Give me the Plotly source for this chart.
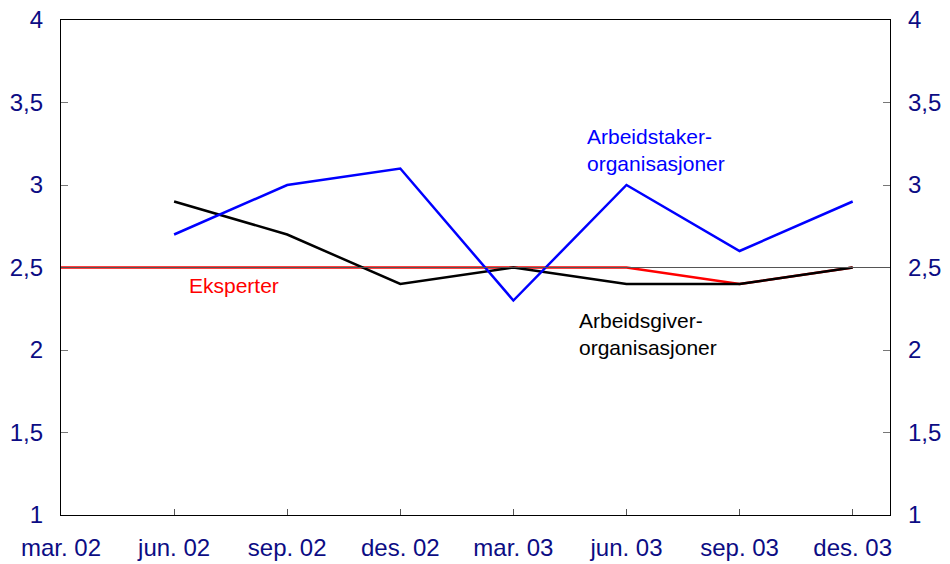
import plotly.graph_objects as go

categories = ["mar. 02", "jun. 02", "sep. 02", "des. 02", "mar. 03", "jun. 03", "sep. 03", "des. 03"]
arbeidstaker = [None, 2.7, 3.0, 3.1, 2.3, 3.0, 2.6, 2.9]
arbeidsgiver = [None, 2.9, 2.7, 2.4, 2.5, 2.4, 2.4, 2.5]
eksperter = [2.5, 2.5, 2.5, 2.5, 2.5, 2.5, 2.4, 2.5]
y_ticks = [1, 1.5, 2, 2.5, 3, 3.5, 4]
ref_level = 2.5

xs = list(range(len(categories)))
navy = "#0c0c84"
font = "Liberation Sans, Arial, sans-serif"
tick_size = 24
ann_size = 21

fig = go.Figure()
fig.add_trace(go.Scatter(x=xs, y=eksperter, mode="lines", line=dict(color="#ff0000", width=2.5), showlegend=False))
fig.add_trace(go.Scatter(x=xs, y=arbeidsgiver, mode="lines", line=dict(color="#000000", width=2.5), showlegend=False))
fig.add_trace(go.Scatter(x=xs, y=arbeidstaker, mode="lines", line=dict(color="#0000ff", width=2.5), showlegend=False))
fig.add_trace(go.Scatter(x=xs, y=arbeidstaker, mode="lines", line=dict(width=0), yaxis="y2", showlegend=False, hoverinfo="skip"))
fig.add_hline(y=ref_level, line=dict(color="#555555", width=1), layer="above")

fig.update_layout(
    width=950, height=564,
    margin=dict(l=61, r=60, t=20, b=49, autoexpand=False),
    paper_bgcolor="white", plot_bgcolor="white",
    separators=", ",
    font=dict(family=font, size=tick_size, color=navy),
    xaxis=dict(
        range=[0, 7.33], tickvals=xs, ticktext=categories, automargin=False,
        ticks="inside", ticklen=6, tickcolor="#555555", tickwidth=1,
        showgrid=False, zeroline=False, showline=True, linecolor="black", linewidth=1.2,
        mirror=True, ticklabelstandoff=11, ticklabeloverflow="allow",
        tickfont=dict(size=tick_size, color=navy, family=font),
    ),
    yaxis=dict(
        range=[1, 4], tickvals=y_ticks, ticks="inside", ticklen=7, tickcolor="#777777",
        showgrid=False, zeroline=False, showline=True, linecolor="black", linewidth=1.2,
        ticklabelstandoff=12, automargin=False, ticklabeloverflow="allow",
        tickfont=dict(size=tick_size, color=navy, family=font),
    ),
    yaxis2=dict(
        range=[1, 4], tickvals=y_ticks, ticks="inside", ticklen=7, tickcolor="#777777",
        overlaying="y", side="right", showgrid=False, zeroline=False, automargin=False,
        showline=True, linecolor="black", linewidth=1.2, ticklabelstandoff=12,
        ticklabeloverflow="allow",
        tickfont=dict(size=tick_size, color=navy, family=font),
    ),
)

fig.add_annotation(x=4.63, y=3.21, xref="x", yref="y", text="Arbeidstaker-<br>organisasjoner",
                   showarrow=False, xanchor="left", yanchor="middle", align="left",
                   font=dict(size=ann_size, color="#0000ff", family=font))
fig.add_annotation(x=1.115, y=2.39, xref="x", yref="y", text="Eksperter",
                   showarrow=False, xanchor="left", yanchor="middle", align="left",
                   font=dict(size=ann_size, color="#ff0000", family=font))
fig.add_annotation(x=4.566, y=2.1, xref="x", yref="y", text="Arbeidsgiver-<br>organisasjoner",
                   showarrow=False, xanchor="left", yanchor="middle", align="left",
                   font=dict(size=ann_size, color="#000000", family=font))

fig.write_html("out.html", config={"displayModeBar": False},
               post_script="document.body.style.margin='0';document.body.style.overflow='hidden';")
